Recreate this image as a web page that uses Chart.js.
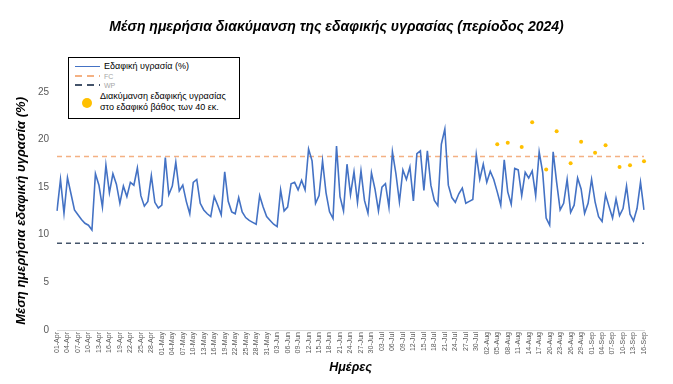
<!DOCTYPE html>
<html>
<head>
<meta charset="utf-8">
<script src="https://cdn.jsdelivr.net/npm/chart.js@4.4.1/dist/chart.umd.min.js"></script>
<style>
  html, body { margin: 0; padding: 0; background: #fff; }
  #wrap { position: relative; width: 673px; height: 384px; }
  #legendBox {
    position: absolute; left: 68px; top: 57px; width: 170px; height: 60px;
    border: 1px solid #000; background: #fff;
    font-family: 'Liberation Sans', Arial, sans-serif;
  }
  .lgItem { position: absolute; white-space: nowrap; }
  .lgText { position: absolute; line-height: 11px; white-space: nowrap; }
</style>
</head>
<body>
<div id="wrap">
  <canvas id="soilChart" width="673" height="384"></canvas>
  <div id="legendBox"></div>
</div>
<script>
// daily mean soil moisture (%), 01-Apr .. 16-Sep 2024
const soilMoisture = [
  12.5, 15.8, 12.25, 16.0, 14.3, 12.6, 12.1, 11.6, 11.2, 11.0,
  10.5, 16.4, 15.2, 12.9, 17.3, 14.4, 16.4, 15.3, 13.3, 15.1,
  14.0, 15.5, 15.2, 17.0, 14.1, 13.0, 13.5, 16.2, 13.4, 12.8,
  13.1, 18.1, 14.2, 15.1, 17.6, 14.6, 15.2, 13.5, 12.2, 15.5,
  15.8, 13.3, 12.6, 12.2, 11.9, 14.0, 13.1, 12.1, 16.6, 13.5,
  12.4, 12.2, 13.9, 12.4, 11.8, 11.5, 11.3, 11.1, 14.1, 12.9,
  11.9, 11.5, 11.1, 10.85, 14.7, 12.5, 12.9, 15.35, 15.5, 14.7,
  15.7, 14.7, 19.0, 17.75, 13.3, 14.1, 17.75, 14.4, 12.4, 11.7,
  19.3, 14.0, 12.5, 17.4, 14.2, 16.6, 13.4, 16.7, 13.6, 12.25,
  16.5, 14.8, 12.5, 15.0, 15.35, 12.9, 18.7, 16.4, 13.45, 16.8,
  15.8, 17.1, 13.55, 18.5, 18.8, 14.66, 18.8, 15.2, 13.6, 13.05,
  19.5, 21.1, 15.2, 13.9, 13.4, 14.3, 14.9, 13.3, 13.5, 13.7,
  18.4, 15.8, 17.4, 15.5, 16.65, 15.8, 14.5, 13.1, 17.85, 14.5,
  13.2, 16.95, 16.8, 14.1, 16.55, 15.95, 16.7, 14.1, 18.7, 16.55,
  11.75, 11.0, 18.7, 15.5, 12.6, 13.3, 15.8, 12.35, 13.1, 15.95,
  14.8, 12.25, 13.3, 15.8, 13.45, 11.9, 11.4, 14.2, 12.95, 11.75,
  13.75, 12.0, 12.75, 15.1, 12.15, 11.45, 12.75, 15.5, 12.6
];

// soil moisture at 40 cm depth (twice a week)
const depthDates = ['05-Aug', '08-Aug', '12-Aug', '15-Aug', '19-Aug', '22-Aug', '26-Aug',
                    '29-Aug', '02-Sep', '05-Sep', '09-Sep', '12-Sep', '16-Sep'];
const depthValues = [19.5, 19.65, 19.2, 21.8, 16.85, 20.85, 17.5, 19.75, 18.6, 19.4, 17.1, 17.3, 17.7];

const FC = 18.2;
const WP = 9.1;

const monthNames = ['Jan', 'Feb', 'Mar', 'Apr', 'May', 'Jun', 'Jul', 'Aug', 'Sep', 'Oct', 'Nov', 'Dec'];
const days = [];
for (let d = new Date(2024, 3, 1); d <= new Date(2024, 8, 16); d.setDate(d.getDate() + 1)) {
  days.push(String(d.getDate()).padStart(2, '0') + '-' + monthNames[d.getMonth()]);
}
const tickEvery = 3;

const legendLabels = ['Εδαφική υγρασία (%)', 'FC', 'WP',
  ['Διακύμανση εδαφικής υγρασίας', 'στο εδαφικό βάθος των 40 εκ.']];

const greyText = '#595959';
const fontFam = "'Liberation Sans', Arial, sans-serif";

const ctx = document.getElementById('soilChart').getContext('2d');
const chart = new Chart(ctx, {
  type: 'line',
  data: {
    labels: days,
    datasets: [
      {
        label: legendLabels[0],
        data: soilMoisture,
        borderColor: '#4472C4',
        borderWidth: 1.6,
        pointRadius: 0,
        tension: 0,
        order: 1
      },
      {
        label: legendLabels[1],
        data: days.map(() => FC),
        borderColor: '#F4B183',
        borderWidth: 1.5,
        borderDash: [5, 4],
        pointRadius: 0,
        order: 2
      },
      {
        label: legendLabels[2],
        data: days.map(() => WP),
        borderColor: '#44546A',
        borderWidth: 1.5,
        borderDash: [5, 4],
        pointRadius: 0,
        order: 2
      },
      {
        label: legendLabels[3].join(' '),
        data: depthDates.map((d, i) => ({x: d, y: depthValues[i]})),
        showLine: false,
        pointRadius: 2,
        pointBorderWidth: 0,
        pointBackgroundColor: '#FFC000',
        borderColor: '#FFC000',
        order: 0
      }
    ]
  },
  options: {
    responsive: false,
    animation: false,
    layout: { padding: 0 },
    plugins: {
      legend: { display: false },
      tooltip: { enabled: false },
      title: {
        display: true,
        text: 'Μέση ημερήσια διακύμανση της εδαφικής υγρασίας (περίοδος 2024)',
        color: '#000',
        font: { family: fontFam, size: 14, weight: 'bold', style: 'italic' },
        padding: { top: 19, bottom: 56 }
      }
    },
    scales: {
      x: {
        grid: { display: false, drawTicks: false },
        border: { display: true, color: '#D9D9D9', width: 1 },
        ticks: {
          autoSkip: false,
          maxRotation: 90,
          minRotation: 90,
          padding: 2,
          color: greyText,
          font: { family: fontFam, size: 7 },
          callback: function(value, index) {
            return index % tickEvery === 0 ? this.getLabelForValue(value) : '';
          }
        },
        title: {
          display: true,
          text: 'Ημέρες',
          color: '#000',
          font: { family: fontFam, size: 12.5, weight: 'bold', style: 'italic' },
          padding: { top: 0, bottom: 9 }
        },
        afterFit: function(scale) { scale.height = 54; }
      },
      y: {
        min: 0,
        max: 25,
        grid: { display: false, drawTicks: false },
        border: { display: false },
        ticks: {
          stepSize: 5,
          padding: 8,
          color: greyText,
          font: { family: fontFam, size: 10 }
        },
        title: {
          display: true,
          text: 'Μέση ημερήσια εδαφική υγρασία (%)',
          color: '#000',
          font: { family: fontFam, size: 13, weight: 'bold', style: 'italic' },
          padding: { top: 14, bottom: 0 }
        },
        afterFit: function(scale) { scale.width = 57; }
      },
      // empty right margin so the title stays centred on the page
      yRight: {
        position: 'right',
        grid: { display: false, drawTicks: false },
        border: { display: false },
        ticks: { display: false },
        afterFit: function(scale) { scale.width = 29; }
      }
    }
  }
});

// legend box drawn as html, one row per dataset
function buildLegend() {
  const box = document.getElementById('legendBox');
  const rows = [
    {y: 8.5, size: 9, color: '#000'},
    {y: 18, size: 7, color: '#A6A6A6'},
    {y: 27, size: 7, color: '#A6A6A6'}
  ];
  for (let i = 0; i < 3; i++) {
    const ds = chart.data.datasets[i];
    let mark = document.createElement('div');
    mark.className = 'lgItem';
    mark.style.left = '6px';
    mark.style.top = (rows[i].y - 1) + 'px';
    mark.style.width = '25px';
    mark.style.height = '1.6px';
    if (ds.borderDash) {
      mark.style.background = 'repeating-linear-gradient(90deg,' + ds.borderColor + ' 0 7px, transparent 7px 12px)';
    } else {
      mark.style.background = ds.borderColor;
    }
    box.appendChild(mark);
    let txt = document.createElement('div');
    txt.className = 'lgText';
    txt.style.left = '35px';
    txt.style.top = (rows[i].y - 5.5) + 'px';
    txt.style.fontSize = rows[i].size + 'px';
    txt.style.color = rows[i].color;
    txt.textContent = ds.label;
    box.appendChild(txt);
  }
  let dot = document.createElement('div');
  dot.className = 'lgItem';
  dot.style.left = '13px';
  dot.style.top = '40px';
  dot.style.width = '10px';
  dot.style.height = '10px';
  dot.style.borderRadius = '50%';
  dot.style.background = chart.data.datasets[3].pointBackgroundColor;
  box.appendChild(dot);
  legendLabels[3].forEach((line, k) => {
    let txt = document.createElement('div');
    txt.className = 'lgText';
    txt.style.left = '31px';
    txt.style.top = (33 + k * 11) + 'px';
    txt.style.fontSize = '9px';
    txt.style.color = '#000';
    txt.textContent = line;
    box.appendChild(txt);
  });
}
buildLegend();
</script>
</body>
</html>
